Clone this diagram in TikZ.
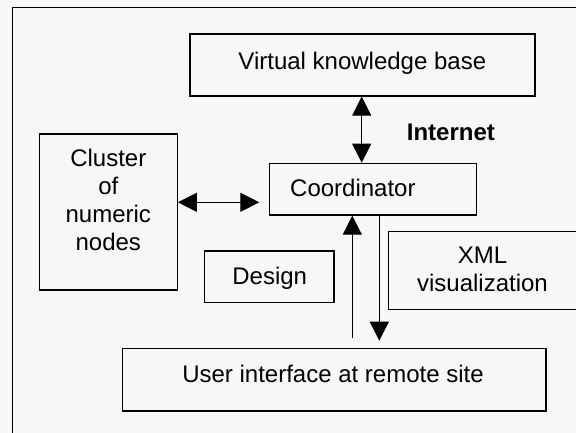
\documentclass[tikz,border=0pt]{standalone}
\usepackage{fontspec}
\setmainfont{Liberation Sans}
\usetikzlibrary{arrows.meta}
\definecolor{paper}{HTML}{F7F7F7}
\tikzset{
  box/.style={draw=black, line width=1.2pt, rectangle, inner sep=0pt},
  lbl/.style={inner sep=0pt, font=\fontsize{24}{28}\selectfont, align=center},
  link/.style={draw=black, line width=1pt},
  head/.style={-{Triangle[length=19pt,width=19pt]}},
  heads/.style={{Triangle[length=19pt,width=19pt]}-{Triangle[length=19pt,width=19pt]}}
}
\begin{document}
\begin{tikzpicture}[x=1pt,y=-1pt]
  % page area and background
  \fill[paper] (0,0) rectangle (576,433);
  \clip (0,0) rectangle (576,433);
  % outer frame (runs off the page to the right and bottom)
  \draw[line width=1.4pt] (12.3,7.7) rectangle (600,460);

  % boxes
  \node[box, minimum width=345pt,   minimum height=62pt]   (vkb)     at (362.5,65) {};
  \node[box, minimum width=207.4pt, minimum height=51.7pt] (coord)   at (373,189.2) {};
  \node[box, minimum width=138pt,   minimum height=156pt]  (cluster) at (108.3,212) {};
  \node[box, minimum width=129.7pt, minimum height=51.7pt] (design)  at (269.2,276.9) {};
  \node[box, minimum width=188.7pt, minimum height=77.6pt] (xml)     at (482.6,270.5) {};
  \node[box, minimum width=423.7pt, minimum height=62.7pt] (ui)      at (334.2,379.7) {};

  % texts
  \node[lbl, anchor=base] (vkbt) at (362.3,70) {Virtual knowledge base};
  \node[lbl, anchor=base west] (coordt) at (290,196.7) {Coordinator};
  \node[lbl] (clustert) at (108.3,199.9) {Cluster\\of\\numeric\\nodes};
  \node[lbl, anchor=base] (designt) at (269.7,284.3) {Design};
  \node[lbl] (xmlt) at (482.5,269) {XML\\visualization};
  \node[lbl, anchor=base] (uit) at (333,382.3) {User interface at remote site};
  \node[lbl, anchor=base west, font=\fontsize{24}{28}\selectfont\bfseries] (net) at (406.7,140.7) {Internet};

  % connector positions
  \coordinate (kx) at (361.7,0);
  \coordinate (hy) at (0,202.3);
  \coordinate (upx) at (352.3,0);
  \coordinate (dnx) at (379.3,0);
  \coordinate (upstart) at (352.3,338.3);
  \coordinate (dnend) at (379.3,340.7);
  \coordinate (hend) at (259.3,202.3);

  % connectors
  \draw[link, heads] (vkb.south -| kx) -- (coord.north -| kx);
  \draw[link, heads] (cluster.east |- hy) -- (hend);
  \draw[link, head] (upstart) -- (coord.south -| upx);
  \draw[link, head] (coord.south -| dnx) -- (dnend);
\end{tikzpicture}
\end{document}
